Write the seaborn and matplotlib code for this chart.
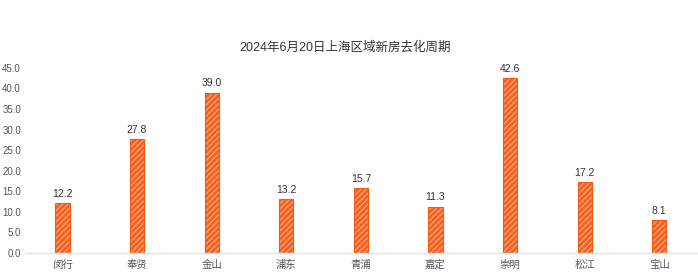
import matplotlib
matplotlib.use("Agg")
import matplotlib.pyplot as plt
import seaborn as sns
import pandas as pd

districts = ["闵行", "奉贤", "金山", "浦东", "青浦", "嘉定", "崇明", "松江", "宝山"]
cycle_months = [12.2, 27.8, 39.0, 13.2, 15.7, 11.3, 42.6, 17.2, 8.1]
yticks = [0, 5, 10, 15, 20, 25, 30, 35, 40, 45]
title = "2024年6月20日上海区域新房去化周期"

sns.set_theme(style="white")
plt.rcParams['font.family'] = ['Liberation Sans', 'Noto Sans CJK SC', 'DejaVu Sans']
plt.rcParams['hatch.linewidth'] = 0.9

df = pd.DataFrame({"区域": districts, "周期": cycle_months})

fig = plt.figure(figsize=(6.98, 2.75), dpi=100)
ax = fig.add_axes([0.036, 0.08, 0.962, 0.673])
sns.barplot(data=df, x="区域", y="周期", color="#F4611E", width=0.19,
            saturation=1, ax=ax, edgecolor="#FFA27A", linewidth=0.5)
for p in ax.patches:
    p.set_hatch("//////")
    if hasattr(p, "set_hatchcolor"):
        p.set_hatchcolor("#FFA27A")
# thin darker outline over each bar
for p in list(ax.patches):
    x0, y0 = p.get_x(), p.get_y()
    w, h = p.get_width(), p.get_height()
    ax.add_patch(plt.Rectangle((x0, y0), w, h, fill=False,
                               edgecolor="#F25A14", linewidth=0.8))

for i, v in enumerate(cycle_months):
    ax.text(i, v + 1.0, f"{v:.1f}", ha="center", va="bottom", fontsize=7.5,
            color="#333333")

ax.set_ylim(0, 45)
ax.set_yticks(yticks)
ax.set_yticklabels([f"{t:.1f}" for t in yticks], fontsize=7, color="#555555")
ax.tick_params(axis="x", labelsize=7.5, colors="#555555", length=0, pad=5)
ax.tick_params(axis="y", length=0, pad=3)
ax.set_xlabel("")
ax.set_ylabel("")
for s in ["top", "right", "left"]:
    ax.spines[s].set_visible(False)
ax.spines["bottom"].set_color("#E2E2E2")
ax.spines["bottom"].set_linewidth(1.0)
ax.set_xlim(-0.5, len(districts) - 0.5)

fig.text(0.495, 0.828, title, ha="center", va="center", fontsize=9, color="#333333")

fig.savefig("out.png", dpi=100)
